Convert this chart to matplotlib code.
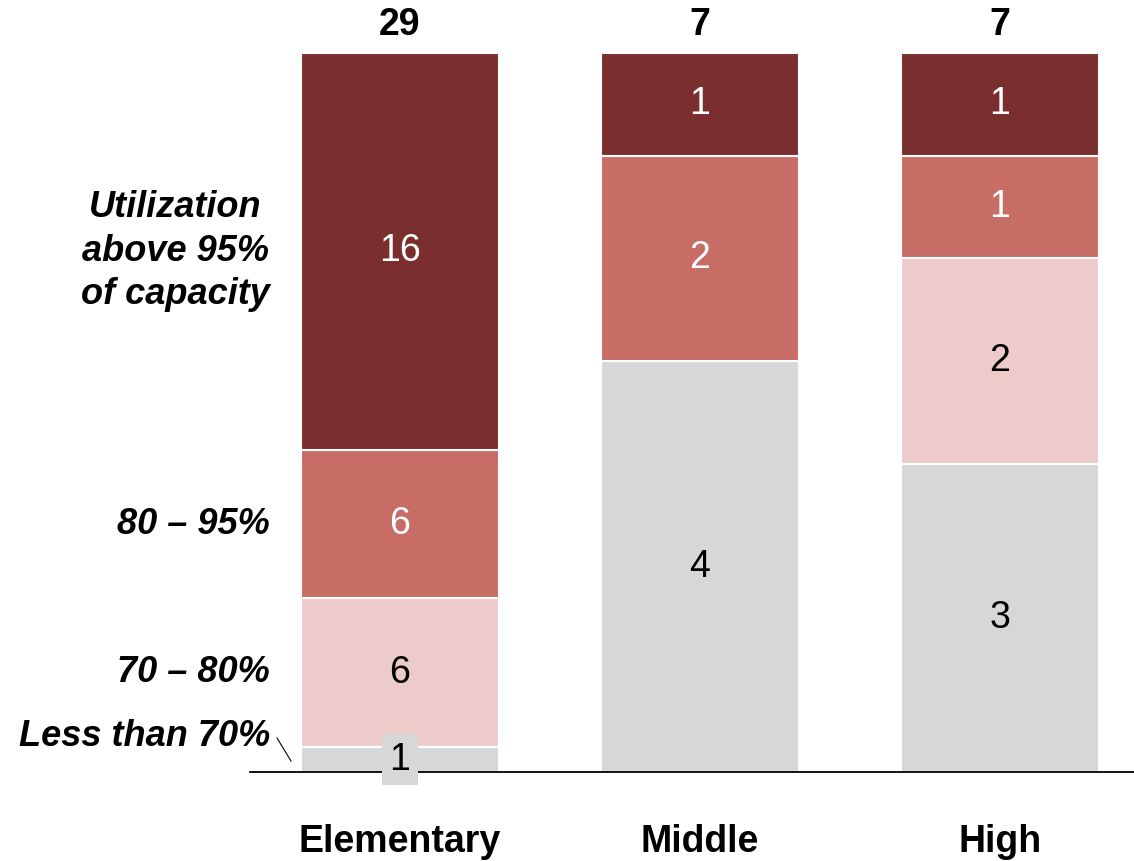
import numpy as np
import matplotlib.pyplot as plt

plt.rcParams['font.family'] = ['Liberation Sans', 'DejaVu Sans']

# school levels and number of schools per utilization band
levels = ['Elementary', 'Middle', 'High']
band_names = ['Less than 70%', '70 – 80%', '80 – 95%', 'Utilization\nabove 95%\nof capacity']
below_70 = [1, 4, 3]
from_70_80 = [6, 0, 2]
from_80_95 = [6, 2, 1]
above_95 = [16, 1, 1]

bands = [below_70, from_70_80, from_80_95, above_95]
colors = ['#D7D7D9', '#ECCBCA', '#C86C66', '#7A2E2E']
text_colors = ['black', 'black', 'white', 'white']

counts = np.array(bands, dtype=float)
totals = counts.sum(axis=0)
shares = counts / totals

fig = plt.figure(figsize=(11.34, 8.61), dpi=100)
ax = fig.add_axes([250 / 1134, 89 / 861, 884 / 1134, 719 / 861])

x = np.arange(len(levels))
width = 0.66
bottom = np.zeros(len(levels))
for i, share in enumerate(shares):
    ax.bar(x, share, width, bottom=bottom, color=colors[i],
           edgecolor='white', linewidth=1.5, zorder=2)
    for j in range(len(levels)):
        n = int(counts[i, j])
        if n == 0:
            continue
        yc = bottom[j] + share[j] / 2
        box = None
        if levels[j] == 'Elementary' and i == 0:
            # thin slice: put the number on a small patch so it reads over the axis
            box = dict(boxstyle='square,pad=0.2', facecolor=colors[0], edgecolor='none')
        ax.text(x[j], yc, str(n), ha='center', va='center', fontsize=27,
                color=text_colors[i], bbox=box, zorder=4)
    bottom += share

# totals above each bar
for j in range(len(levels)):
    ax.text(x[j], 1.0 + 28 / 719, f'{int(totals[j])}', ha='center', va='center',
            fontsize=27, fontweight='bold')

# category names under the bars
for j, name in enumerate(levels):
    ax.text(x[j], -70 / 719, name, ha='center', va='center',
            fontsize=27, fontweight='bold')

# band labels to the left of the first bar
lab_x = -0.5 + 20 / 300
first = shares[:, 0]
starts = np.concatenate([[0], np.cumsum(first)[:-1]])
mids = starts + first / 2
for i, name in enumerate(band_names):
    yy = mids[i]
    if i == 0:
        yy = (772 - 736) / 719
        ax.plot([lab_x + 7 / 300, lab_x + 21 / 300], [(772 - 738) / 719, (772 - 761) / 719],
                color='black', linewidth=0.8, clip_on=False)
    ax.text(lab_x, yy, name, ha='right', va='center', fontsize=26,
            fontweight='bold', style='italic', multialignment='center',
            linespacing=1.32)

ax.set_xlim(-0.5, -0.5 + 884 / 300)
ax.set_ylim(0, 1)
for side in ['top', 'right', 'left']:
    ax.spines[side].set_visible(False)
ax.spines['bottom'].set_linewidth(1.3)
ax.set_xticks([])
ax.set_yticks([])

fig.savefig('out.png', dpi=100)
